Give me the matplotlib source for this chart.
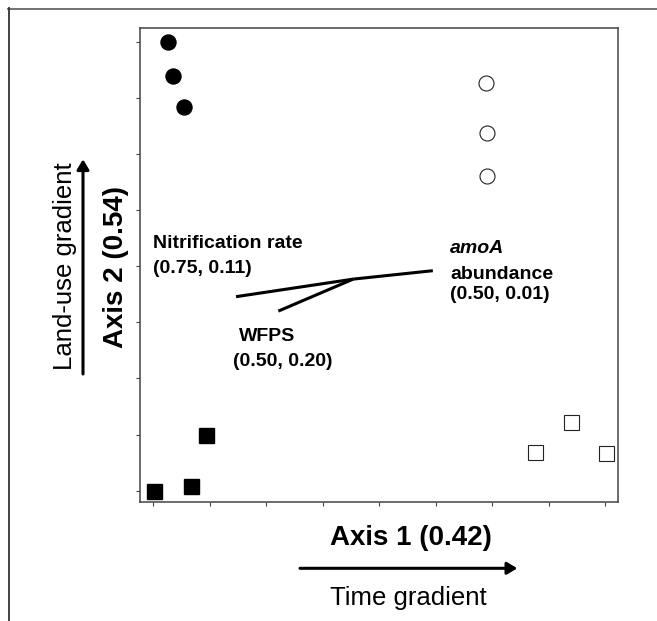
import matplotlib
matplotlib.use("Agg")
import matplotlib.pyplot as plt
from matplotlib.lines import Line2D
from matplotlib.patches import FancyArrowPatch

plt.rcParams['font.family'] = ['Liberation Sans', 'DejaVu Sans']

# ---- data (ordination scores) ----
filled_circle_x = [0.255, 0.354, 0.549]
filled_circle_y = [7.99, 7.39, 6.84]
open_circle_x = [5.90, 5.91, 5.91]
open_circle_y = [7.26, 6.37, 5.61]
filled_square_x = [0.012, 0.66, 0.93]
filled_square_y = [0.0, 0.09, 1.0]
open_square_x = [6.76, 7.39, 8.01]
open_square_y = [0.684, 1.23, 0.666]

vector_origin = (3.54, 3.77)
vector_names = ["Nitrification rate", "amoA abundance", "WFPS"]
vector_end_x = [1.465, 4.95, 2.214]
vector_end_y = [3.457, 3.92, 3.20]

xticks = list(range(9))
yticks = list(range(9))

W, H = 657, 621
fig = plt.figure(figsize=(W / 100, H / 100), dpi=100)

def fx(px):
    return px / W

def fy(py):
    return 1 - py / H

ax = fig.add_axes([fx(140), fy(502), (618 - 140) / W, (502 - 28) / H])
ax.set_xlim(-0.236, 8.23)
ax.set_ylim(-0.201, 8.244)

ms = 10.8
ax.plot(filled_circle_x, filled_circle_y, 'o', ms=ms, color='black', mec='black')
ax.plot(open_circle_x, open_circle_y, 'o', ms=ms, mfc='white', mec='#222222', mew=0.8)
ax.plot(filled_square_x, filled_square_y, 's', ms=ms, color='black', mec='black')
ax.plot(open_square_x, open_square_y, 's', ms=ms, mfc='white', mec='#222222', mew=0.8)

for ex, ey in zip(vector_end_x, vector_end_y):
    ax.plot([vector_origin[0], ex], [vector_origin[1], ey], '-', color='black',
            lw=2.2, solid_capstyle='butt')

fs_lab = 14
ax.text(-0.01, 4.41, "Nitrification rate", fontsize=fs_lab, fontweight='bold', va='center', ha='left')
ax.text(-0.01, 3.96, "(0.75, 0.11)", fontsize=fs_lab, fontweight='bold', va='center', ha='left')
ax.text(1.523, 2.756, "WFPS", fontsize=fs_lab, fontweight='bold', va='center', ha='left')
ax.text(1.417, 2.298, "(0.50, 0.20)", fontsize=fs_lab, fontweight='bold', va='center', ha='left')
ax.text(5.255, 4.319, "amoA", fontsize=fs_lab, fontweight='bold', fontstyle='italic', va='center', ha='left')
ax.text(5.255, 3.861, "abundance", fontsize=fs_lab, fontweight='bold', va='center', ha='left')
ax.text(5.255, 3.499, "(0.50, 0.01)", fontsize=fs_lab, fontweight='bold', va='center', ha='left')

ax.set_xticks(xticks)
ax.set_yticks(yticks)
ax.set_xticklabels([])
ax.set_yticklabels([])
ax.tick_params(direction='out', length=3, width=0.8, color='#444444')
for sp in ax.spines.values():
    sp.set_color('#444444')
    sp.set_linewidth(1.1)

# axis titles
fig.text(fx(410.5), fy(538.3), "Axis 1 (0.42)", fontsize=20, fontweight='bold',
         ha='center', va='center')
fig.text(fx(408), fy(598.5), "Time gradient", fontsize=18.5, ha='center', va='center')
fig.text(fx(116), fy(267), "Axis 2 (0.54)", fontsize=20, fontweight='bold',
         ha='center', va='center', rotation=90)
fig.text(fx(65), fy(266), "Land-use gradient", fontsize=18.5, ha='center', va='center',
         rotation=90)

# gradient arrows
for (x0, y0, x1, y1) in [(300, 568.3, 517.3, 568.3), (83, 374, 83, 159.3)]:
    arr = FancyArrowPatch((fx(x0), fy(y0)), (fx(x1), fy(y1)), transform=fig.transFigure,
                          arrowstyle='-|>,head_length=0.6,head_width=0.36',
                          mutation_scale=10, lw=2.2, color='black',
                          shrinkA=0, shrinkB=0)
    fig.add_artist(arr)

# outer frame (top and left edges)
fig.add_artist(Line2D([fx(8), 1.0], [fy(8.5), fy(8.5)], transform=fig.transFigure,
                      color='#666666', lw=1.3))
fig.add_artist(Line2D([fx(8.5), fx(8.5)], [fy(8), 0.0], transform=fig.transFigure,
                      color='#333333', lw=1.3))

fig.savefig("out.png", dpi=100)
